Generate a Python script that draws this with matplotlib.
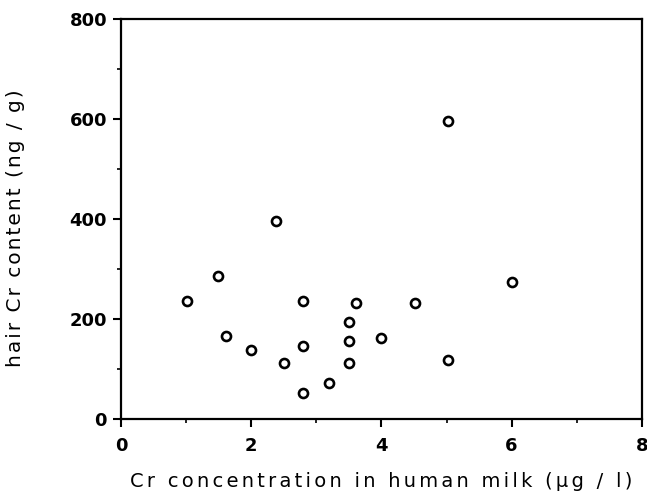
import numpy as np
import matplotlib
matplotlib.use('Agg')
from matplotlib import pyplot as plt
from matplotlib.ticker import MultipleLocator

# Cr no leite humano (ug/l) x Cr no cabelo (ng/g)
cr_milk = [1.01, 1.49, 2.38, 1.61, 1.99, 2.51, 2.80, 2.80, 2.80, 3.19,
           3.50, 3.50, 3.50, 3.61, 3.99, 4.52, 5.02, 5.03, 6.01]
cr_hair = [236, 286, 395, 165, 137, 111, 236, 146, 51, 71,
           193, 156, 111, 231, 161, 231, 118, 595, 273]

x_ticks = [0, 2, 4, 6, 8]
y_ticks = [0, 200, 400, 600, 800]

def espacado(s, esp):
    # espaco pequeno entre as letras, como no original
    return esp.join(s)

plt.rcParams['font.family'] = ['DejaVu Sans']

fig = plt.figure(figsize=(6.47, 5.01), dpi=100)
ax = fig.add_axes([0.187, 0.164, 0.805, 0.798])

ax.plot(cr_milk, cr_hair, 'o', markersize=6.5, markerfacecolor='white',
        markeredgecolor='black', markeredgewidth=1.9)

ax.set_xlim(0, 8)
ax.set_ylim(0, 800)
ax.set_xticks(x_ticks)
ax.set_yticks(y_ticks)
ax.xaxis.set_minor_locator(MultipleLocator(1))
ax.yaxis.set_minor_locator(MultipleLocator(100))
ax.tick_params(which='major', direction='out', length=6, width=1.5, labelsize=13, pad=4)
ax.tick_params(axis='x', which='major', pad=7)
ax.tick_params(which='minor', direction='out', length=3, width=1.2)
for lbl in ax.get_xticklabels() + ax.get_yticklabels():
    lbl.set_fontweight('bold')
for s in ax.spines.values():
    s.set_linewidth(1.6)

ax.set_xlabel(espacado('Cr concentration in human milk (μg / l)', '\u2006'), fontsize=14, labelpad=12)
ax.set_ylabel(espacado('hair Cr content (ng / g)', '\u200a'), fontsize=14.5)
ax.yaxis.set_label_coords(-0.184, 0.477)

plt.savefig('out.png', dpi=100)
